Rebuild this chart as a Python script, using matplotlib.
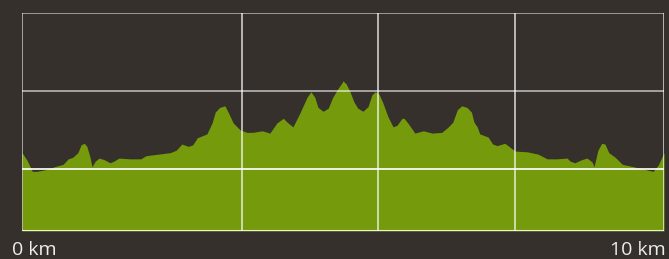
import numpy as np
import matplotlib.pyplot as plt

# elevation profile
dist_km = [0.00, 0.08, 0.16, 0.23, 0.36, 0.51, 0.64, 0.72, 0.79, 0.87, 0.92, 0.97,
           1.01, 1.06, 1.09, 1.14, 1.20, 1.28, 1.37, 1.43, 1.51, 1.68, 1.85, 1.93,
           2.31, 2.40, 2.49, 2.59, 2.66, 2.73, 2.88, 2.96, 3.01, 3.08, 3.16, 3.21,
           3.29, 3.40, 3.50, 3.60, 3.74, 3.86, 3.97, 4.07, 4.13, 4.22, 4.33, 4.44,
           4.50, 4.56, 4.61, 4.69, 4.77, 4.84, 4.92, 4.98, 5.00, 5.05, 5.11, 5.17,
           5.23, 5.31, 5.39, 5.45, 5.50, 5.56, 5.62, 5.70, 5.78, 5.84, 5.92, 5.95,
           6.01, 6.12, 6.25, 6.39, 6.54, 6.64, 6.71, 6.78, 6.85, 6.93, 7.00, 7.04,
           7.09, 7.13, 7.26, 7.33, 7.40, 7.52, 7.60, 7.68, 7.87, 8.04, 8.18, 8.33,
           8.49, 8.54, 8.61, 8.72, 8.80, 8.88, 8.91, 8.97, 9.03, 9.08, 9.14, 9.24,
           9.35, 9.52, 9.67, 9.83, 9.91, 10.00]
elev_m = [121, 111, 97, 97, 99, 103, 106, 113, 115, 121, 131, 133,
          129, 115, 103, 110, 114, 112, 108, 110, 114, 113, 113, 117,
          121, 124, 132, 129, 131, 140, 145, 159, 173, 179, 181, 173,
          159, 150, 147, 147, 149, 146, 159, 165, 160, 154, 172, 192,
          199, 192, 179, 174, 178, 192, 203, 210, 213, 209, 199, 186,
          178, 174, 180, 195, 199, 196, 185, 167, 154, 156, 165, 165,
          159, 146, 149, 146, 147, 154, 160, 176, 181, 179, 173, 160,
          154, 145, 141, 132, 130, 133, 128, 123, 122, 119, 113, 113,
          114, 110, 108, 112, 114, 109, 103, 124, 133, 132, 121, 115,
          106, 103, 100, 97, 105, 121]

h_grid = [100, 200]
v_grid = [3.43, 5.55, 7.68]
x_labels = ['0 km', '10 km']

bg = '#35302b'
green = '#759b0d'

fig = plt.figure(figsize=(6.69, 2.59), dpi=100, facecolor=bg)
ax = fig.add_axes([22 / 669, 28 / 259, 642 / 669, 218 / 259])
ax.set_facecolor(bg)
ymin = 100 - 62 / 0.78
ax.set_xlim(0, 10)
ax.set_ylim(ymin, 300)

ax.fill_between(dist_km, ymin, elev_m, color=green, lw=0, zorder=1)

# grid drawn on top of the fill
ax.axhline(300, color='white', alpha=0.55, lw=1.3, zorder=3)
ax.axhline(h_grid[1], color='white', alpha=0.6, lw=1.3, zorder=3)
ax.axhline(h_grid[0], color='white', alpha=0.95, lw=1.3, zorder=3)
ax.axhline(ymin, color='white', alpha=0.85, lw=1.5, zorder=3)
for v in v_grid:
    ax.axvline(v, color='white', alpha=0.7, lw=1.3, zorder=3)
ax.axvline(0, color='white', alpha=0.6, lw=1.3, zorder=3)
ax.axvline(10, color='white', alpha=0.7, lw=1.3, zorder=3)

for s in ax.spines.values():
    s.set_visible(False)
ax.set_xticks([])
ax.set_yticks([])

fig.text(12 / 669, 9 / 259, x_labels[0], color='#eeeeee', fontsize=14,
         family='Open Sans', ha='left', va='center')
fig.text(666 / 669, 9 / 259, x_labels[1], color='#eeeeee', fontsize=14,
         family='Open Sans', ha='right', va='center')

fig.savefig('out.png', dpi=100, facecolor=bg)
